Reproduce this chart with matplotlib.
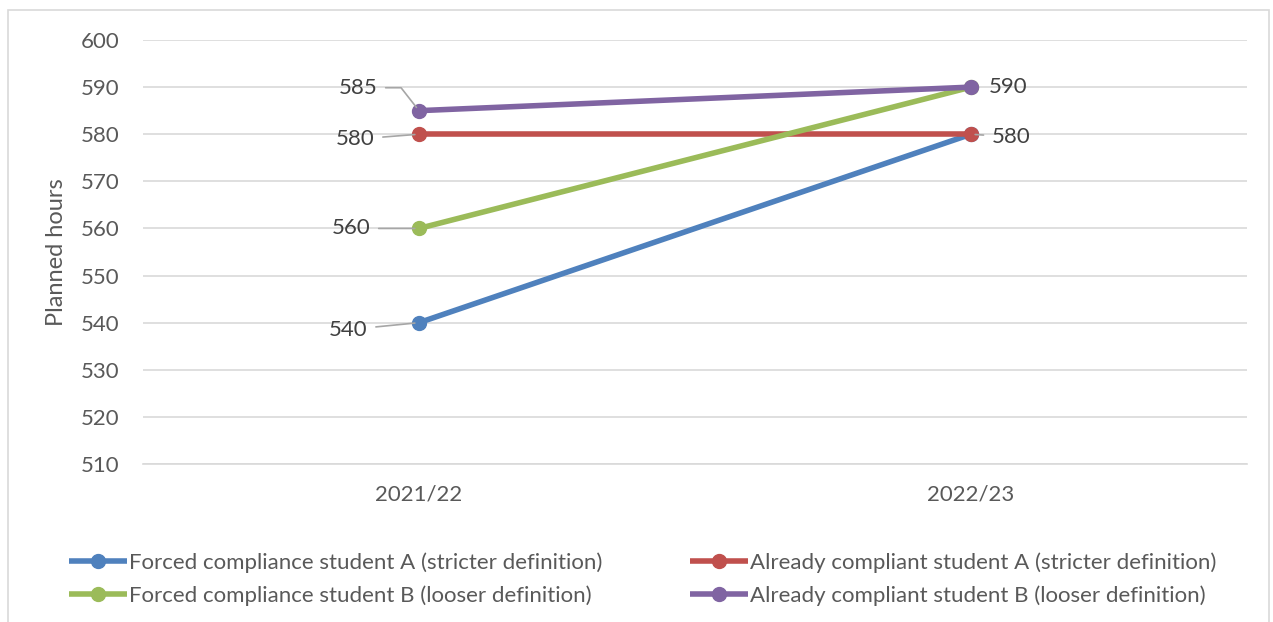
import matplotlib.pyplot as plt
from matplotlib.patches import Rectangle

plt.rcParams['font.family'] = ['Lato', 'DejaVu Sans']

years = ["2021/22", "2022/23"]
series_names = [
    "Forced compliance student A (stricter definition)",
    "Already compliant student A (stricter definition)",
    "Forced compliance student B (looser definition)",
    "Already compliant student B (looser definition)",
]
forced_a = [540, 580]
already_a = [580, 580]
forced_b = [560, 590]
already_b = [585, 590]
colors = ["#4F81BD", "#C0504D", "#9BBB59", "#8064A2"]

y_ticks = list(range(510, 601, 10))

fig = plt.figure(figsize=(12.73, 6.22), dpi=100)
ax = fig.add_axes([0.1123, 0.254, 0.8673, 0.6817])

x = list(range(len(years)))
all_series = [forced_a, already_a, forced_b, already_b]
for vals, name, c in zip(all_series, series_names, colors):
    ax.plot(x, vals, color=c, lw=4, marker="o", ms=10, label=name,
            solid_capstyle="butt", zorder=3)

ax.set_xlim(-0.5, 1.5)
ax.set_ylim(510, 600)
ax.set_yticks(y_ticks)
ax.set_xticks(x)
ax.set_xticklabels(years)
ax.grid(axis="y", color="#D9D9D9", lw=1.2)
ax.set_axisbelow(True)
for s in ["top", "right", "left"]:
    ax.spines[s].set_visible(False)
ax.spines["bottom"].set_color("#D9D9D9")
ax.spines["bottom"].set_linewidth(1.2)
ax.tick_params(length=0, labelsize=16, labelcolor="#595959")
ax.tick_params(axis="y", pad=17)
ax.tick_params(axis="x", pad=15)
ax.set_ylabel("Planned hours", fontsize=17, color="#595959", labelpad=10)

# data labels with grey leader lines
lead = dict(arrowstyle="-", color="#A6A6A6", lw=1.2, shrinkA=4, shrinkB=3)
lbl = dict(fontsize=16, color="#404040", va="center")
ax.annotate(str(already_b[0]), (0, already_b[0]), xytext=(-30, 16.5), textcoords="offset points",
            ha="right", arrowprops=dict(lead, connectionstyle="angle,angleA=0,angleB=128,rad=0"), **lbl)
ax.annotate(str(already_a[0]), (0, already_a[0]), xytext=(-32, -3.6), textcoords="offset points",
            ha="right", arrowprops=lead, **lbl)
ax.annotate(str(forced_b[0]), (0, forced_b[0]), xytext=(-35, 0), textcoords="offset points",
            ha="right", arrowprops=lead, **lbl)
ax.annotate(str(forced_a[0]), (0, forced_a[0]), xytext=(-37, -5), textcoords="offset points",
            ha="right", arrowprops=lead, **lbl)
ax.annotate(str(forced_b[1]), (1, forced_b[1]), xytext=(13, 0), textcoords="offset points",
            ha="left", **lbl)
ax.annotate(str(forced_a[1]), (1, forced_a[1]), xytext=(15, -2), textcoords="offset points",
            ha="left", arrowprops=lead, **lbl)

# legend in reading order (row-wise across two columns)
h, l = ax.get_legend_handles_labels()
order = [0, 2, 1, 3]
fig.legend([h[i] for i in order], [l[i] for i in order], ncol=2, loc="upper left",
           bbox_to_anchor=(0.054, 0.112), frameon=False, fontsize=16,
           handlelength=2.6, handletextpad=0.1, columnspacing=3.95,
           labelspacing=0.57, borderpad=0, borderaxespad=0, labelcolor="#595959")

fig.patches.append(Rectangle((8 / 1273, -0.01), 1 - 12 / 1273, 1 - 10 / 622 + 0.01,
                             transform=fig.transFigure, fill=False,
                             edgecolor="#D9D9D9", lw=1.2))

plt.savefig("out.png", dpi=100)
